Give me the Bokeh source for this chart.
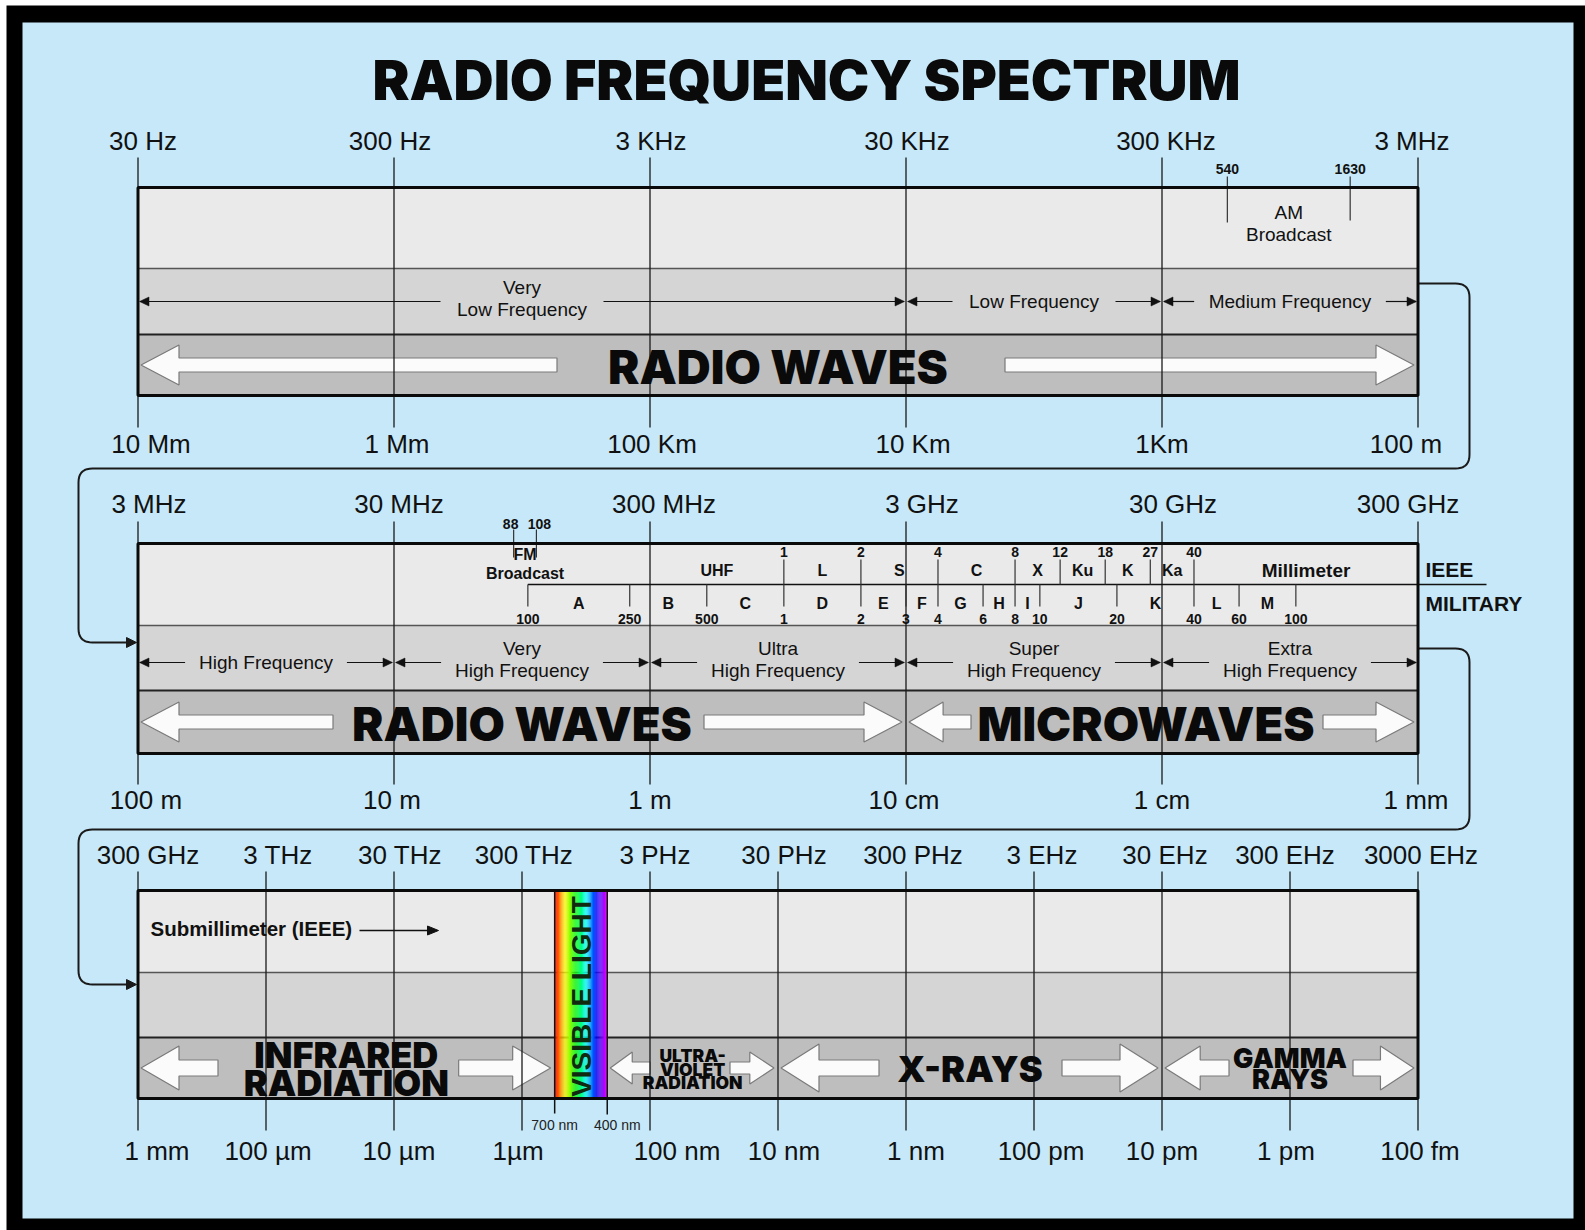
import colorsys
import numpy as np
from bokeh.plotting import figure
from bokeh.models import Range1d, ColumnDataSource
from bokeh.core.properties import value
from bokeh.embed import file_html
from bokeh.resources import INLINE

# ---------------- data ----------------
TITLE = "RADIO FREQUENCY SPECTRUM"

P1_FREQ_HZ = [30, 300, 3e3, 3e4, 3e5, 3e6]
P1_FREQ_LABELS = ["30 Hz", "300 Hz", "3 KHz", "30 KHz", "300 KHz", "3 MHz"]
P1_WAVE_LABELS = ["10 Mm", "1 Mm", "100 Km", "10 Km", "1Km", "100 m"]

P2_FREQ_HZ = [3e6, 3e7, 3e8, 3e9, 3e10, 3e11]
P2_FREQ_LABELS = ["3 MHz", "30 MHz", "300 MHz", "3 GHz", "30 GHz", "300 GHz"]
P2_WAVE_LABELS = ["100 m", "10 m", "1 m", "10 cm", "1 cm", "1 mm"]

P3_FREQ_HZ = [3e11, 3e12, 3e13, 3e14, 3e15, 3e16, 3e17, 3e18, 3e19, 3e20, 3e21]
P3_FREQ_LABELS = ["300 GHz", "3 THz", "30 THz", "300 THz", "3 PHz", "30 PHz",
                  "300 PHz", "3 EHz", "30 EHz", "300 EHz", "3000 EHz"]
P3_WAVE_LABELS = ["1 mm", "100 µm", "10 µm", "1µm", "100 nm", "10 nm",
                  "1 nm", "100 pm", "10 pm", "1 pm", "100 fm"]

MID_PANEL = [0, 0, 0, 1, 1, 1, 1, 1]
MID_LO_HZ = [30, 3e4, 3e5, 3e6, 3e7, 3e8, 3e9, 3e10]
MID_HI_HZ = [3e4, 3e5, 3e6, 3e7, 3e8, 3e9, 3e10, 3e11]
MID_LABELS = [["Very", "Low Frequency"], ["Low Frequency"], ["Medium Frequency"],
              ["High Frequency"], ["Very", "High Frequency"], ["Ultra", "High Frequency"],
              ["Super", "High Frequency"], ["Extra", "High Frequency"]]

VISIBLE_NM = ["700 nm", "400 nm"]
VISIBLE_EDGE_HZ = [5.4e14, 1.39e15]   # band edges as placed on the chart's own axis

WAVE_PANEL = [0, 1, 1, 2, 2, 2, 2]
WAVE_LO_HZ = [30, 3e6, 3e9, 3e11, VISIBLE_EDGE_HZ[1], 3e16, 3e19]
WAVE_HI_HZ = [3e6, 3e9, 3e11, VISIBLE_EDGE_HZ[0], 3e16, 3e19, 3e21]
WAVE_NAMES = [["RADIO WAVES"], ["RADIO WAVES"], ["MICROWAVES"], ["INFRARED", "RADIATION"],
              ["ULTRA-", "VIOLET", "RADIATION"], ["X-RAYS"], ["GAMMA", "RAYS"]]

AM_KHZ = [540, 1630]
AM_LABELS = ["540", "1630"]
FM_MHZ = [88, 108]
FM_LABELS = ["88", "108"]

IEEE_EDGES_GHZ = [0.3, 1, 2, 4, 8, 12, 18, 27, 40, 300]
IEEE_EDGE_LABELS = ["", "1", "2", "4", "8", "12", "18", "27", "40", ""]
IEEE_NAMES = ["UHF", "L", "S", "C", "X", "Ku", "K", "Ka", "Millimeter"]

MIL_EDGES_GHZ = [0.1, 0.25, 0.5, 1, 2, 3, 4, 6, 8, 10, 20, 40, 60, 100]
MIL_EDGE_LABELS = ["100", "250", "500", "1", "2", "3", "4", "6", "8", "10", "20", "40", "60", "100"]
MIL_NAMES = ["A", "B", "C", "D", "E", "F", "G", "H", "I", "J", "K", "L", "M"]

# ---------------- layout / style ----------------
W, H = 1585, 1230
X_LEFT, X_RIGHT = 137.5, 1417.5
PANELS = [
    dict(freqs=P1_FREQ_HZ, fl=P1_FREQ_LABELS, wl=P1_WAVE_LABELS, top=187, s1=268, s2=334, bot=395,
         fy=140, wy=443, lt=157, lb=427, arr=301,
         fdx=[5, -4, 1, 1, 4, -6], wdx=[13, 3, 2, 7, 0, -12]),
    dict(freqs=P2_FREQ_HZ, fl=P2_FREQ_LABELS, wl=P2_WAVE_LABELS, top=543, s1=625, s2=690, bot=753,
         fy=503, wy=799, lt=521, lb=784, arr=662,
         fdx=[11, 5, 14, 16, 11, -10], wdx=[8, -2, 0, -2, 0, -2]),
    dict(freqs=P3_FREQ_HZ, fl=P3_FREQ_LABELS, wl=P3_WAVE_LABELS, top=890, s1=972, s2=1037, bot=1098,
         fy=854, wy=1150, lt=871, lb=1130, arr=None,
         fdx=[10, 12, 6, 2, 5, 6, 7, 8, 3, -5, 3], wdx=[19, 2, 5, -4, 27, 6, 10, 7, 0, -4, 2]),
]
# font size, line gap, left arrow length, right arrow length, head half-h, shaft half-h, text dx
WAVE_STYLE = [(47, 0, 416, 409, 20, 7, 0), (47, 0, 192, 198, 20, 7, 0), (47, 0, 62, 91, 20, 7, -16),
              (36, 28.5, 77, 92, 22, 8, 0), (17.5, 13.5, 40, 44, 16, 6, 0), (36, 0, 98, 96, 24, 8, 0),
              (27, 21, 64, 61, 22, 8, 0)]

BG_BLUE = "#C6E8F8"
ROW_COLORS = ["#EAEAEA", "#D5D5D5", "#BEBEBE"]
SANS = "Liberation Sans"
HEAVY = "Inter Black, Roboto Black, DejaVu Sans"


def xmap(pn, f):
    fr = PANELS[pn]["freqs"]
    a, b = np.log10(fr[0]), np.log10(fr[-1])
    return X_LEFT + (np.log10(f) - a) / (b - a) * (X_RIGHT - X_LEFT)


def est_w(s, fs):
    w = 0.0
    for ch in s:
        if ch in "il.|'":
            w += 0.24
        elif ch in "ftjr- ":
            w += 0.3
        elif ch in "mwMW":
            w += 0.85
        elif ch.isupper():
            w += 0.68
        else:
            w += 0.55
    return w * fs


p = figure(width=W, height=H, x_range=Range1d(0, W), y_range=Range1d(H, 0),
           output_backend="svg", toolbar_location=None, min_border=0,
           x_axis_type=None, y_axis_type=None)
p.grid.visible = False
p.outline_line_color = None
p.background_fill_color = "white"
p.border_fill_color = "white"


def txt(xs, ys, texts, size, font=SANS, style="normal", align="center", color="#111111", angle=0.0):
    src = ColumnDataSource(dict(x=list(xs), y=list(ys), t=list(texts)))
    p.text(x="x", y="y", text="t", source=src, text_font=value(font),
           text_font_size=value(f"{size}px"), text_font_style=style, text_align=align,
           text_baseline="middle", text_color=color, angle=angle)


def segs(xs, ys, color="#111111", width=1.3):
    p.multi_line(xs=xs, ys=ys, line_color=color, line_width=width)


# frame and background
p.quad(left=[6], right=[W], top=[5], bottom=[H], fill_color="black", line_color=None)
p.quad(left=[22], right=[1573], top=[22], bottom=[1218], fill_color=BG_BLUE, line_color=None)

# title
txt([806], [79], [TITLE], 55.5, font=HEAVY, style="bold", color="#0a0a0a")

# rows
for P in PANELS:
    p.quad(left=[X_LEFT] * 3, right=[X_RIGHT] * 3, top=[P["top"], P["s1"], P["s2"]],
           bottom=[P["s1"], P["s2"], P["bot"]], fill_color=ROW_COLORS, line_color=None)
    segs([[X_LEFT, X_RIGHT]], [[P["s1"], P["s1"]]], color="#555555", width=1.5)
    segs([[X_LEFT, X_RIGHT]], [[P["s2"], P["s2"]]], color="#222222", width=2)

# visible light band
P3 = PANELS[2]
vx0, vx1 = xmap(2, VISIBLE_EDGE_HZ[0]), xmap(2, VISIBLE_EDGE_HZ[1])
n = 48
edges = np.linspace(vx0, vx1, n + 1)
cols = []
for i in range(n):
    r, g, b = colorsys.hsv_to_rgb(0.83 * (i + 0.5) / n, 1.0, 1.0)
    cols.append("#%02x%02x%02x" % (int(r * 255), int(g * 255), int(b * 255)))
p.quad(left=edges[:-1], right=edges[1:], top=[P3["top"]] * n, bottom=[P3["bot"]] * n,
       fill_color=cols, line_color=None)
segs([[vx0, vx0], [vx1, vx1]], [[P3["top"], P3["bot"] + 15], [P3["top"], P3["bot"] + 16]], width=1.5)
txt([(vx0 + vx1) / 2 + 1], [(P3["top"] + P3["bot"]) / 2 + 2], ["VISIBLE LIGHT"], 28, style="bold",
    color="#0f2a0f", angle=np.pi / 2)
txt([vx0, vx1 + 10], [1124, 1124], VISIBLE_NM, 14, color="#222222")

# block arrows + band names (bottom rows)
ax, ay = [], []
name_args = []
for pn, lo, hi, names, st in zip(WAVE_PANEL, WAVE_LO_HZ, WAVE_HI_HZ, WAVE_NAMES, WAVE_STYLE):
    P = PANELS[pn]
    fs, gap, L, R, hh, sh, dx = st
    xl, xh = xmap(pn, lo), xmap(pn, hi)
    yc = (P["s2"] + P["bot"]) / 2
    for tip, tail in [(xl + 3, xl + 3 + L), (xh - 4, xh - 4 - R)]:
        d = 1 if tail > tip else -1
        hl = min(38, 0.55 * abs(tail - tip))
        base = tip + d * hl
        ax.append([tip, base, base, tail, tail, base, base])
        ay.append([yc, yc - hh, yc - sh, yc - sh, yc + sh, yc + sh, yc + hh])
    k = len(names)
    ys = [yc + 1 + (i - (k - 1) / 2) * gap for i in range(k)]
    name_args.append(([(xl + xh) / 2 + dx] * k, ys, names, fs))
p.patches(xs=ax, ys=ay, fill_color="#FBFBFB", line_color="#7a7a7a", line_width=1.2)

# decade lines and labels
for i, P in enumerate(PANELS):
    xs = [xmap(i, f) for f in P["freqs"]]
    segs([[x, x] for x in xs], [[P["lt"], P["lb"]] for _ in xs], color="#1a1a1a", width=1.3)
    txt([x + d for x, d in zip(xs, P["fdx"])], [P["fy"]] * len(xs), P["fl"], 26)
    txt([x + d for x, d in zip(xs, P["wdx"])], [P["wy"]] * len(xs), P["wl"], 26)

for xs_, ys_, names, fs in name_args:
    txt(xs_, ys_, names, fs, font=HEAVY, style="bold", color="#0a0a0a")

# middle-row frequency band arrows
sx, sy, hx, hy = [], [], [], []
for pn, lo, hi, lines in zip(MID_PANEL, MID_LO_HZ, MID_HI_HZ, MID_LABELS):
    P = PANELS[pn]
    y = P["arr"]
    xl, xh = xmap(pn, lo), xmap(pn, hi)
    xc = (xl + xh) / 2
    w = max(est_w(s, 19) for s in lines)
    sx += [[xl + 2, xc - w / 2 - 13], [xc + w / 2 + 13, xh - 2]]
    sy += [[y, y], [y, y]]
    hx += [[xl + 1.5, xl + 11, xl + 11], [xh - 1.5, xh - 11, xh - 11]]
    hy += [[y, y - 4.5, y + 4.5], [y, y - 4.5, y + 4.5]]
    ys = [y] if len(lines) == 1 else [y - 14, y + 8]
    txt([xc] * len(lines), ys, lines, 19)
segs(sx, sy, width=1.2)
p.patches(xs=hx, ys=hy, fill_color="#111111", line_color="#111111", line_width=0.5)

# AM broadcast
amx = [xmap(0, f * 1e3) for f in AM_KHZ]
segs([[x, x] for x in amx], [[176, 222], [176, 220]], color="#333333", width=1.2)
txt(amx, [168, 168], AM_LABELS, 14, style="bold")
txt([np.mean(amx)] * 2, [212, 234], ["AM", "Broadcast"], 19)

# FM broadcast
fmx = [xmap(1, f * 1e6) for f in FM_MHZ]
segs([[x, x] for x in fmx], [[529, 557], [529, 557]], color="#333333", width=1.2)
txt([fmx[0] - 3, fmx[1] + 3], [523, 523], FM_LABELS, 14, style="bold")
txt([np.mean(fmx)] * 2, [554, 573], ["FM", "Broadcast"], 16, style="bold")

# IEEE / military band designations
ie = [xmap(1, g * 1e9) for g in IEEE_EDGES_GHZ]
mi = [xmap(1, g * 1e9) for g in MIL_EDGES_GHZ]
segs([[mi[0], 1486]], [[584, 584]], width=1.5)
inner = [(x, l) for x, l in zip(ie, IEEE_EDGE_LABELS) if l]
segs([[x, x] for x, _ in inner], [[559, 584] for _ in inner], color="#333333", width=1.2)
txt([x for x, _ in inner], [551] * len(inner), [l for _, l in inner], 14, style="bold")
ien = [xmap(1, np.sqrt(a * b) * 1e9) for a, b in zip(IEEE_EDGES_GHZ[:-1], IEEE_EDGES_GHZ[1:])]
txt(ien[:-1], [570] * (len(ien) - 1), IEEE_NAMES[:-1], 16, style="bold")
txt(ien[-1:], [570], IEEE_NAMES[-1:], 19, style="bold")
segs([[x, x] for x in mi], [[584, 606] for _ in mi], color="#333333", width=1.2)
txt(mi, [618] * len(mi), MIL_EDGE_LABELS, 14, style="bold")
mnx = [xmap(1, np.sqrt(a * b) * 1e9) for a, b in zip(MIL_EDGES_GHZ[:-1], MIL_EDGES_GHZ[1:])]
txt(mnx, [603] * len(mnx), MIL_NAMES, 16, style="bold")
txt([1425, 1425], [569, 603], ["IEEE", "MILITARY"], 21, style="bold", align="left")

# submillimeter note
txt([150], [928], ["Submillimeter (IEEE)"], 20.5, style="bold", align="left")
segs([[359, 428]], [[930, 930]], width=1.4)
p.patches(xs=[[438, 427, 427]], ys=[[930, 925.5, 934.5]], fill_color="#111111", line_color="#111111")


# connectors between panels
def rounded(points, r=14, m=10):
    xs, ys = [points[0][0]], [points[0][1]]
    for i in range(1, len(points) - 1):
        a, c, b = (np.array(points[j], float) for j in (i - 1, i, i + 1))
        d1 = (c - a) / np.linalg.norm(c - a)
        d2 = (b - c) / np.linalg.norm(b - c)
        s, e = c - r * d1, c + r * d2
        for t in np.linspace(0, 1, m):
            q = (1 - t) ** 2 * s + 2 * (1 - t) * t * c + t ** 2 * e
            xs.append(q[0])
            ys.append(q[1])
    xs.append(points[-1][0])
    ys.append(points[-1][1])
    return xs, ys


cx, cy, tx, ty = [], [], [], []
for a, b, ylow in [(PANELS[0], PANELS[1], 468), (PANELS[1], PANELS[2], 829)]:
    y0 = a["s1"] + 15 if a is PANELS[0] else a["s1"] + 23
    y1 = b["s1"] + 17 if b is PANELS[1] else b["s1"] + 12
    xs, ys = rounded([(X_RIGHT + 1, y0), (1469, y0), (1469, ylow), (78, ylow), (78, y1), (127, y1)])
    cx.append(xs)
    cy.append(ys)
    tx.append([136, 126, 126])
    ty.append([y1, y1 - 5, y1 + 5])
segs(cx, cy, color="#1a1a1a", width=2)
p.patches(xs=tx, ys=ty, fill_color="#1a1a1a", line_color="#1a1a1a")

# panel outlines
p.quad(left=[X_LEFT] * 3, right=[X_RIGHT] * 3, top=[P["top"] for P in PANELS],
       bottom=[P["bot"] for P in PANELS], fill_color=None, line_color="#0a0a0a", line_width=3)

open("out.html", "w").write(file_html(p, INLINE))
